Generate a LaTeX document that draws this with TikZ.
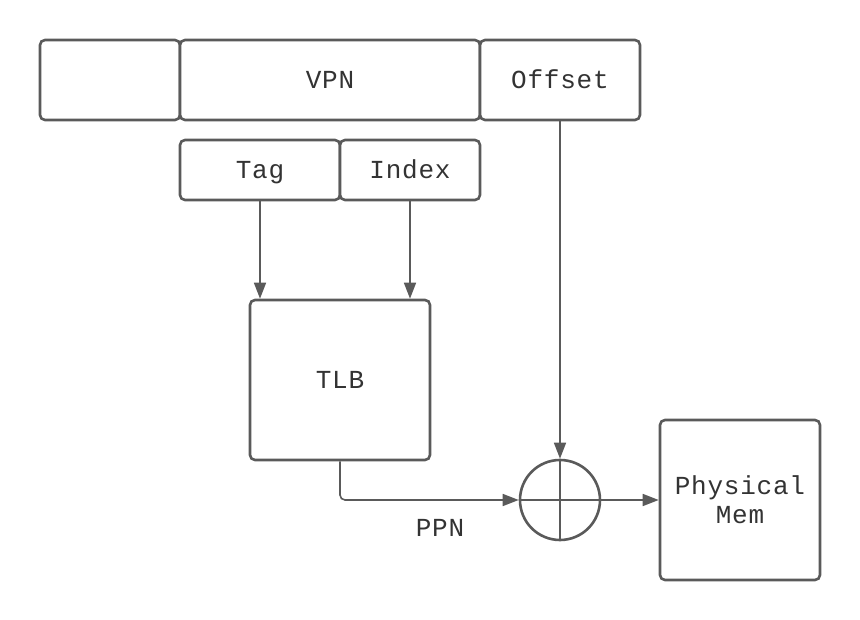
\documentclass[tikz,border=0pt]{standalone}
\usepackage{fontspec}
\setmonofont[LetterSpace=3]{Liberation Mono}
\usetikzlibrary{arrows.meta}
\definecolor{ln}{HTML}{5A5A5A}
\definecolor{tx}{HTML}{333333}
\begin{document}
\begin{tikzpicture}[x=1pt,y=-1pt,
  box/.style={draw=ln,line width=2.6pt,rounded corners=5pt,fill=white,inner sep=0pt,
    font=\ttfamily\fontsize{26}{29}\selectfont,text=tx,align=center,text height=17pt,text depth=0pt},
  arr/.style={draw=ln,line width=1.6pt,-{Triangle[length=16pt,width=12pt]}},
  lbl/.style={font=\ttfamily\fontsize{26}{30}\selectfont,text=tx,inner sep=0pt,text height=17pt,text depth=0pt}]
\useasboundingbox (0,0) rectangle (860,620);
\node[box,minimum width=140pt,minimum height=80pt] (lft) at (110,80) {};
\node[box,minimum width=300pt,minimum height=80pt] (vpn) at (330,80) {VPN};
\node[box,minimum width=160pt,minimum height=80pt] (off) at (560,80) {Offset};
\node[box,minimum width=160pt,minimum height=60pt] (tag) at (260,170) {Tag};
\node[box,minimum width=140pt,minimum height=60pt] (idx) at (410,170) {Index};
\node[box,minimum width=180pt,minimum height=160pt] (tlb) at (340,380) {TLB};
\node[box,minimum width=160pt,minimum height=160pt,text height=46pt] (pm) at (740,500) {Physical\\Mem};
\node[draw=ln,line width=2.6pt,circle,minimum size=80pt,inner sep=0pt] (circ) at (560,500) {};
\draw[ln,line width=2.6pt] (circ.north) -- (circ.south) (circ.west) -- (circ.east);
\draw[arr] (tag.south) -- (tag.south |- tlb.north);
\draw[arr] (idx.south) -- (idx.south |- tlb.north);
\draw[arr] (off.south) -- (circ.north);
\draw[arr,rounded corners=5pt] (tlb.south) |- (circ.west);
\draw[arr] (circ.east) -- (pm.west);
\node[lbl] (ppn) at (440,528) {PPN};
\end{tikzpicture}
\end{document}
